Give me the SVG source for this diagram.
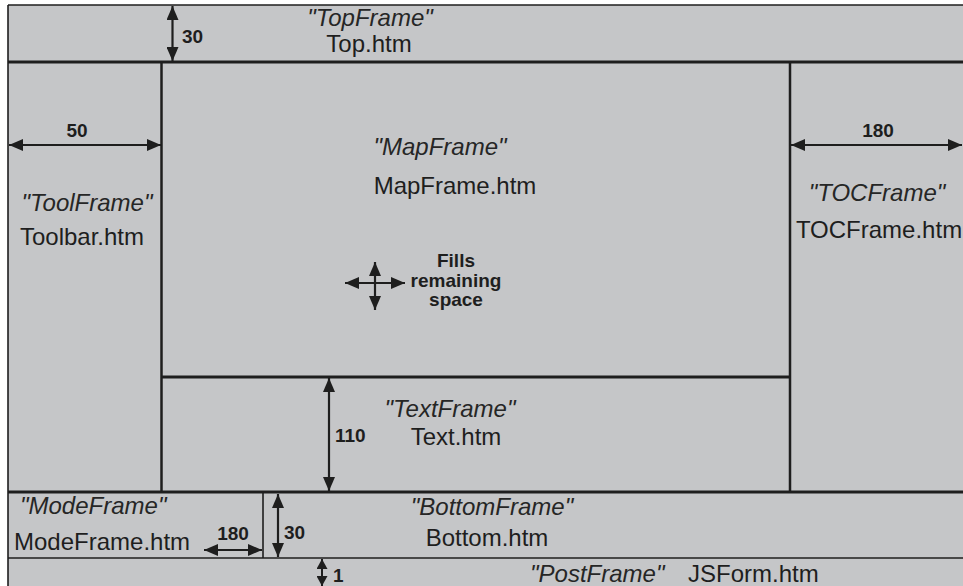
<svg xmlns="http://www.w3.org/2000/svg" width="963" height="586" viewBox="0 0 963 586">
<style>
.bg{fill:#c5c6c8}
.ln{stroke:#1e1e1e;fill:none}
.thick{stroke-width:3}
.thin{stroke-width:1.6}
.name{font-family:"Liberation Sans",Arial,sans-serif;font-size:24px;font-style:italic;fill:#262626}
.file{font-family:"Liberation Sans",Arial,sans-serif;font-size:24px;fill:#1e1e1e}
.dim{font-family:"Liberation Sans",Arial,sans-serif;font-size:19px;font-weight:bold;fill:#1e1e1e}
.arr{stroke:#1e1e1e;stroke-width:2.2;fill:none;marker-start:url(#ah);marker-end:url(#ah)}
.arrs{stroke:#1e1e1e;stroke-width:2;fill:none;marker-start:url(#ahs);marker-end:url(#ahs)}
</style>
<defs>
<marker id="ah" viewBox="0 0 14 12" refX="14" refY="6" markerWidth="14" markerHeight="12" markerUnits="userSpaceOnUse" orient="auto-start-reverse">
<path d="M0,0 L14,6 L0,12 Z" fill="#1e1e1e"/>
</marker>
<marker id="ahs" viewBox="0 0 10 11" refX="10" refY="5.5" markerWidth="10" markerHeight="11" markerUnits="userSpaceOnUse" orient="auto-start-reverse">
<path d="M0,0 L10,5.5 L0,11 Z" fill="#1e1e1e"/>
</marker>
</defs>
<rect x="0" y="0" width="963" height="586" fill="#ffffff"/>
<rect class="bg" x="8" y="5" width="955" height="581"/>

<g id="TopFrame">
<line class="ln thin" x1="8" y1="5" x2="963" y2="5"/>
<line class="ln thick" x1="8" y1="62" x2="963" y2="62"/>
<text class="name" x="370" y="26" text-anchor="middle">"TopFrame"</text>
<text class="file" x="369" y="52" text-anchor="middle">Top.htm</text>
</g>

<g id="ToolFrame">
<line class="ln thin" x1="8" y1="5" x2="8" y2="586"/>
<line class="ln" stroke-width="2.5" x1="161.5" y1="62" x2="161.5" y2="492"/>
<text class="name" x="87" y="211" text-anchor="middle">"ToolFrame"</text>
<text class="file" x="82" y="245" text-anchor="middle">Toolbar.htm</text>
</g>

<g id="MapFrame">
<line class="ln thick" x1="161" y1="377" x2="790" y2="377"/>
<text class="name" x="440" y="155" text-anchor="middle">"MapFrame"</text>
<text class="file" x="455" y="194" text-anchor="middle">MapFrame.htm</text>
<text class="dim" x="456" y="267" text-anchor="middle">Fills</text>
<text class="dim" x="456" y="287" text-anchor="middle">remaining</text>
<text class="dim" x="456" y="306" text-anchor="middle">space</text>
</g>

<g id="TOCFrame">
<line class="ln" stroke-width="2.5" x1="790" y1="62" x2="790" y2="492"/>
<text class="name" x="877" y="201" text-anchor="middle">"TOCFrame"</text>
<text class="file" x="879" y="238" text-anchor="middle">TOCFrame.htm</text>
</g>

<g id="TextFrame">
<line class="ln thick" x1="8" y1="492" x2="963" y2="492"/>
<text class="name" x="450" y="417" text-anchor="middle">"TextFrame"</text>
<text class="file" x="456" y="445" text-anchor="middle">Text.htm</text>
</g>

<g id="ModeFrame">
<line class="ln thin" x1="263" y1="492" x2="263" y2="558"/>
<text class="name" x="20" y="514">"ModeFrame"</text>
<text class="file" x="14" y="550">ModeFrame.htm</text>
</g>

<g id="BottomFrame">
<line class="ln thin" x1="8" y1="558" x2="963" y2="558"/>
<text class="name" x="492" y="515" text-anchor="middle">"BottomFrame"</text>
<text class="file" x="487" y="546" text-anchor="middle">Bottom.htm</text>
</g>

<g id="PostFrame">
<text class="name" x="530" y="582">"PostFrame"</text>
<text class="file" x="688" y="582">JSForm.htm</text>
</g>

<g id="connectors">
<line class="arr" x1="172.5" y1="6" x2="172.5" y2="61"/>
<text class="dim" x="182" y="43">30</text>
<line class="arr" x1="9" y1="145" x2="161" y2="145"/>
<text class="dim" x="77" y="137" text-anchor="middle">50</text>
<line class="arr" x1="791" y1="145" x2="962" y2="145"/>
<text class="dim" x="878" y="137" text-anchor="middle">180</text>
<line class="arr" x1="345" y1="283" x2="405" y2="283"/>
<line class="arr" x1="375" y1="262" x2="375" y2="310"/>
<line class="arr" x1="329" y1="378" x2="329" y2="491"/>
<text class="dim" x="335" y="442">110</text>
<line class="arr" x1="278" y1="494" x2="278" y2="557"/>
<text class="dim" x="284" y="539">30</text>
<line class="arr" x1="204" y1="550" x2="262" y2="550"/>
<text class="dim" x="233" y="540" text-anchor="middle">180</text>
<line class="arrs" x1="322" y1="559" x2="322" y2="586"/>
<text class="dim" x="333" y="582">1</text>
</g>
</svg>
